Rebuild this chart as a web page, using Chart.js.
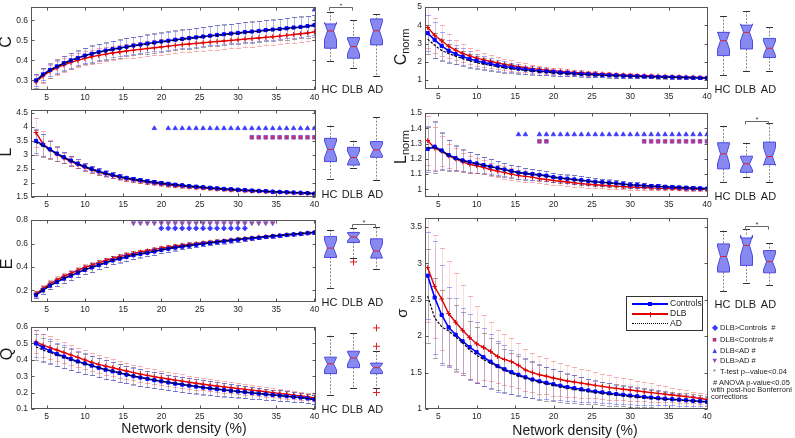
<!DOCTYPE html>
<html>
<head>
<meta charset="utf-8">
<title>Graph measures vs network density</title>
<script src="https://cdn.jsdelivr.net/npm/chart.js@4.4.1/dist/chart.umd.min.js"></script>
<style>
  html, body { margin: 0; padding: 0; background: #fff; }
  body { position: relative; width: 795px; height: 438px; overflow: hidden; font-family: "Liberation Sans", Arial, sans-serif; color: #1a1a1a; }
  canvas { position: absolute; }
  .yt { position: absolute; transform: translate(-50%, -50%) rotate(-90deg); white-space: nowrap; line-height: 1; }
  .yt sub { font-size: 11px; vertical-align: -3px; }
  .xt { position: absolute; transform: translate(-50%, -50%); font-size: 14px; white-space: nowrap; }
  #leg { position: absolute; left: 626px; top: 296px; width: 75px; height: 33px; border: 1px solid #333; background: #fff; }
  #leg .ln { position: absolute; left: 5px; width: 36px; height: 0; }
  #leg .tx { position: absolute; left: 43px; font-size: 8.5px; line-height: 9px; }
  .mk { position: absolute; left: 711px; font-size: 7.5px; line-height: 8px; white-space: nowrap; color: #222; }
  .mk b { font-weight: normal; display: inline-block; width: 7px; text-align: center; }
</style>
</head>
<body>
<canvas id="cC"></canvas><canvas id="cL"></canvas><canvas id="cE"></canvas><canvas id="cQ"></canvas>
<canvas id="cCn"></canvas><canvas id="cLn"></canvas><canvas id="cS"></canvas>
<canvas id="bC"></canvas><canvas id="bL"></canvas><canvas id="bE"></canvas><canvas id="bQ"></canvas>
<canvas id="bCn"></canvas><canvas id="bLn"></canvas><canvas id="bS"></canvas>

<div class="yt" style="left:6px;top:42px;font-size:16px">C</div>
<div class="yt" style="left:6px;top:152px;font-size:16px">L</div>
<div class="yt" style="left:7px;top:264px;font-size:16px">E</div>
<div class="yt" style="left:7px;top:354px;font-size:16px">Q</div>
<div class="yt" style="left:402px;top:47px;font-size:16px">C<sub>norm</sub></div>
<div class="yt" style="left:402px;top:147px;font-size:16px">L<sub>norm</sub></div>
<div class="yt" style="left:401px;top:313px;font-size:15px">σ</div>
<div class="xt" style="left:184px;top:428px">Network density (%)</div>
<div class="xt" style="left:575px;top:430px">Network density (%)</div>

<div id="leg">
  <div class="ln" style="top:6px;border-top:2px solid #0000ff"></div>
  <div style="position:absolute;left:21px;top:5px;width:4px;height:4px;background:#0000ff"></div>
  <div class="tx" style="top:2px">Controls</div>
  <div class="ln" style="top:16px;border-top:2px solid #e00000"></div>
  <div style="position:absolute;left:22.5px;top:14.5px;width:1px;height:5px;background:#e00000"></div>
  <div class="tx" style="top:12px">DLB</div>
  <div class="ln" style="top:25.5px;border-top:1.5px dotted #000"></div>
  <div class="tx" style="top:21.5px">AD</div>
</div>

<div class="mk" style="top:324px"><b style="color:#3a3aff">◆</b> DLB&gt;Controls &nbsp;#</div>
<div class="mk" style="top:336px"><b style="color:#b0357a">■</b> DLB&lt;Controls #</div>
<div class="mk" style="top:347px"><b style="color:#3a3aff">▲</b> DLB&lt;AD #</div>
<div class="mk" style="top:357px"><b style="color:#9a45b0">▼</b> DLB&gt;AD #</div>
<div class="mk" style="top:368px"><b style="color:#666">*</b> T-test p--value&lt;0.04</div>
<div class="mk" style="top:379px">&nbsp;# ANOVA p-value&lt;0.05</div>
<div class="mk" style="top:386px">with post-hoc Bonferroni</div>
<div class="mk" style="top:393px">corrections</div>

<script>
// density steps (%)
const density = [3.6,4.51,5.42,6.33,7.24,8.15,9.06,9.97,10.88,11.79,12.7,13.61,14.52,15.43,16.34,17.25,18.16,19.07,19.98,20.89,21.8,22.71,23.62,24.53,25.44,26.35,27.26,28.17,29.08,29.99,30.9,31.81,32.72,33.63,34.54,35.45,36.36,37.27,38.18,39.09,40];
const xTicks = [5,10,15,20,25,30,35,40];
const groups = ['HC','DLB','AD'];

// clustering C
const C_ctrl = [0.300,0.330,0.352,0.370,0.386,0.400,0.412,0.424,0.433,0.442,0.449,0.456,0.462,0.468,0.474,0.479,0.484,0.489,0.494,0.498,0.503,0.507,0.511,0.515,0.519,0.523,0.527,0.530,0.534,0.537,0.541,0.544,0.547,0.551,0.554,0.557,0.560,0.564,0.567,0.571,0.576];
const C_dlb = [0.292,0.322,0.345,0.362,0.377,0.390,0.400,0.410,0.418,0.425,0.431,0.437,0.442,0.447,0.451,0.455,0.459,0.463,0.467,0.471,0.475,0.479,0.482,0.485,0.488,0.491,0.494,0.497,0.500,0.503,0.506,0.509,0.512,0.515,0.518,0.521,0.525,0.529,0.533,0.537,0.542];
const C_ad = [0.296,0.328,0.351,0.369,0.385,0.399,0.411,0.422,0.432,0.440,0.447,0.454,0.460,0.466,0.472,0.477,0.482,0.487,0.492,0.496,0.501,0.505,0.509,0.513,0.517,0.521,0.525,0.528,0.532,0.535,0.539,0.542,0.545,0.549,0.552,0.555,0.558,0.562,0.565,0.569,0.574];
const C_ctrlErr = [0.03,0.03,0.032,0.034,0.035,0.036,0.037,0.038,0.039,0.04,0.04,0.041,0.042,0.042,0.043,0.043,0.044,0.044,0.045,0.045,0.046,0.046,0.047,0.047,0.047,0.048,0.048,0.048,0.049,0.049,0.049,0.05,0.05,0.05,0.05,0.05,0.05,0.051,0.051,0.051,0.051];
const C_dlbErr = [0.037,0.035,0.034,0.034,0.034,0.035,0.035,0.035,0.036,0.036,0.036,0.036,0.037,0.037,0.037,0.037,0.038,0.038,0.038,0.038,0.038,0.039,0.039,0.039,0.039,0.039,0.04,0.04,0.04,0.04,0.04,0.04,0.04,0.04,0.04,0.04,0.04,0.04,0.04,0.04,0.04];
const C_adErr = [0.035,0.036,0.037,0.038,0.039,0.04,0.041,0.042,0.043,0.044,0.045,0.045,0.046,0.046,0.047,0.047,0.048,0.048,0.049,0.049,0.05,0.05,0.05,0.051,0.051,0.051,0.052,0.052,0.052,0.053,0.053,0.053,0.053,0.054,0.054,0.054,0.054,0.055,0.055,0.055,0.055];
const C_yTicks = [0.3,0.4,0.5,0.6];

// path length L
const L_ctrl = [3.50,3.36,3.20,3.05,2.92,2.80,2.69,2.59,2.50,2.42,2.35,2.29,2.23,2.18,2.14,2.10,2.06,2.03,2.00,1.97,1.94,1.92,1.89,1.87,1.85,1.83,1.81,1.79,1.78,1.76,1.75,1.73,1.72,1.71,1.69,1.68,1.67,1.66,1.65,1.64,1.62];
const L_dlb = [3.80,3.40,3.20,3.03,2.89,2.77,2.66,2.56,2.47,2.39,2.32,2.26,2.20,2.15,2.10,2.06,2.02,1.99,1.96,1.93,1.90,1.88,1.86,1.84,1.82,1.80,1.78,1.77,1.75,1.74,1.72,1.71,1.70,1.69,1.68,1.67,1.66,1.65,1.64,1.63,1.61];
const L_ad = [3.45,3.33,3.18,3.04,2.91,2.79,2.68,2.58,2.49,2.41,2.34,2.28,2.22,2.17,2.13,2.09,2.05,2.02,1.99,1.96,1.93,1.91,1.88,1.86,1.84,1.82,1.80,1.79,1.77,1.76,1.74,1.73,1.72,1.70,1.69,1.68,1.67,1.66,1.65,1.64,1.62];
const L_ctrlErr = [0.42,0.40,0.30,0.25,0.20,0.17,0.15,0.13,0.12,0.11,0.10,0.095,0.09,0.085,0.08,0.075,0.07,0.068,0.065,0.062,0.06,0.057,0.055,0.053,0.05,0.048,0.046,0.045,0.043,0.042,0.04,0.039,0.038,0.037,0.036,0.035,0.034,0.033,0.032,0.031,0.03];
const L_dlbErr = [0.52,0.45,0.32,0.24,0.19,0.16,0.14,0.12,0.11,0.10,0.09,0.085,0.08,0.075,0.07,0.068,0.065,0.062,0.06,0.057,0.055,0.053,0.05,0.048,0.046,0.045,0.043,0.042,0.04,0.039,0.038,0.037,0.036,0.035,0.034,0.033,0.032,0.031,0.03,0.029,0.028];
const L_adErr = [0.45,0.42,0.33,0.27,0.21,0.18,0.16,0.14,0.125,0.115,0.105,0.10,0.095,0.09,0.085,0.08,0.075,0.072,0.07,0.066,0.063,0.06,0.058,0.055,0.053,0.05,0.049,0.047,0.045,0.044,0.042,0.041,0.04,0.039,0.038,0.037,0.036,0.035,0.034,0.033,0.032];
const L_yTicks = [1.5,2,2.5,3,3.5,4,4.5];

// efficiency E
const E_ctrl = [0.16,0.20,0.24,0.27,0.30,0.325,0.35,0.375,0.395,0.415,0.435,0.455,0.47,0.485,0.50,0.51,0.52,0.532,0.545,0.555,0.565,0.573,0.581,0.589,0.597,0.604,0.611,0.618,0.625,0.632,0.638,0.644,0.65,0.656,0.662,0.667,0.673,0.678,0.683,0.688,0.694];
const E_dlb = [0.17,0.215,0.255,0.29,0.32,0.345,0.37,0.395,0.415,0.435,0.455,0.472,0.488,0.502,0.515,0.527,0.538,0.549,0.56,0.568,0.577,0.585,0.592,0.599,0.606,0.612,0.618,0.624,0.63,0.636,0.642,0.647,0.653,0.658,0.664,0.669,0.674,0.679,0.684,0.689,0.695];
const E_ad = [0.163,0.203,0.243,0.273,0.303,0.328,0.353,0.378,0.398,0.418,0.438,0.458,0.473,0.488,0.503,0.513,0.523,0.535,0.548,0.558,0.568,0.576,0.584,0.592,0.6,0.607,0.614,0.621,0.628,0.635,0.641,0.647,0.653,0.659,0.665,0.67,0.676,0.681,0.686,0.691,0.697];
const E_ctrlErr = [0.025,0.03,0.032,0.034,0.035,0.036,0.036,0.036,0.036,0.035,0.035,0.034,0.033,0.032,0.031,0.03,0.029,0.028,0.027,0.026,0.025,0.024,0.023,0.022,0.021,0.02,0.019,0.018,0.017,0.016,0.015,0.014,0.013,0.012,0.012,0.011,0.011,0.01,0.01,0.01,0.01];
const E_dlbErr = [0.025,0.028,0.03,0.03,0.03,0.03,0.029,0.028,0.027,0.026,0.025,0.024,0.023,0.022,0.021,0.02,0.019,0.018,0.017,0.016,0.015,0.014,0.014,0.013,0.013,0.012,0.012,0.011,0.011,0.01,0.01,0.01,0.009,0.009,0.009,0.008,0.008,0.008,0.007,0.007,0.007];
const E_adErr = [0.027,0.032,0.034,0.036,0.037,0.038,0.038,0.038,0.038,0.037,0.037,0.036,0.035,0.034,0.033,0.032,0.031,0.03,0.029,0.028,0.027,0.026,0.025,0.024,0.023,0.022,0.021,0.02,0.019,0.018,0.017,0.016,0.015,0.014,0.014,0.013,0.013,0.012,0.012,0.012,0.012];
const E_yTicks = [0.2,0.4,0.6,0.8];

// modularity Q
const Q_ctrl = [0.50,0.475,0.455,0.435,0.42,0.405,0.39,0.378,0.365,0.352,0.34,0.33,0.32,0.31,0.30,0.292,0.284,0.276,0.269,0.262,0.255,0.249,0.243,0.237,0.231,0.226,0.221,0.216,0.211,0.207,0.203,0.198,0.194,0.19,0.186,0.182,0.178,0.174,0.17,0.165,0.158];
const Q_dlb = [0.51,0.49,0.475,0.46,0.445,0.43,0.415,0.40,0.385,0.372,0.362,0.352,0.342,0.332,0.322,0.313,0.305,0.297,0.29,0.283,0.276,0.27,0.263,0.257,0.251,0.245,0.24,0.235,0.23,0.225,0.22,0.215,0.21,0.205,0.2,0.195,0.19,0.185,0.18,0.175,0.168];
const Q_ad = [0.48,0.46,0.445,0.43,0.415,0.40,0.388,0.376,0.364,0.352,0.341,0.331,0.321,0.311,0.302,0.293,0.285,0.277,0.27,0.263,0.256,0.25,0.244,0.238,0.232,0.227,0.222,0.217,0.212,0.208,0.203,0.199,0.195,0.19,0.186,0.182,0.178,0.174,0.169,0.164,0.157];
const Q_ctrlErr = [0.085,0.08,0.075,0.07,0.068,0.066,0.064,0.062,0.06,0.058,0.057,0.056,0.055,0.054,0.053,0.052,0.051,0.05,0.049,0.048,0.047,0.046,0.045,0.044,0.043,0.042,0.041,0.04,0.039,0.038,0.037,0.036,0.035,0.034,0.033,0.032,0.031,0.03,0.029,0.028,0.027];
const Q_dlbErr = [0.07,0.07,0.068,0.066,0.064,0.062,0.06,0.058,0.056,0.055,0.054,0.052,0.05,0.049,0.048,0.047,0.046,0.045,0.044,0.043,0.042,0.041,0.04,0.039,0.038,0.037,0.036,0.035,0.034,0.033,0.032,0.031,0.03,0.029,0.028,0.027,0.026,0.025,0.024,0.023,0.022];
const Q_adErr = [0.08,0.075,0.07,0.068,0.066,0.064,0.062,0.06,0.058,0.057,0.056,0.055,0.054,0.053,0.052,0.051,0.05,0.049,0.048,0.047,0.046,0.045,0.044,0.043,0.042,0.041,0.04,0.039,0.038,0.037,0.036,0.035,0.034,0.033,0.032,0.031,0.03,0.029,0.028,0.027,0.026];
const Q_yTicks = [0.1,0.2,0.3,0.4,0.5,0.6];

// normalised clustering Cnorm
const Cn_ctrl = [3.57,3.2,2.87,2.6,2.42,2.28,2.15,2.05,1.96,1.88,1.80,1.74,1.68,1.62,1.57,1.53,1.49,1.46,1.43,1.40,1.38,1.35,1.33,1.31,1.29,1.27,1.26,1.24,1.23,1.21,1.20,1.19,1.18,1.17,1.16,1.15,1.14,1.13,1.12,1.11,1.10];
const Cn_dlb = [3.88,3.45,3.15,2.85,2.63,2.46,2.32,2.2,2.1,2.01,1.93,1.85,1.79,1.72,1.67,1.62,1.58,1.54,1.5,1.47,1.44,1.41,1.39,1.37,1.35,1.33,1.31,1.29,1.27,1.26,1.24,1.23,1.22,1.21,1.2,1.18,1.17,1.16,1.15,1.14,1.13];
const Cn_ad = [3.24,2.9,2.62,2.45,2.3,2.17,2.05,1.95,1.87,1.79,1.72,1.66,1.61,1.56,1.52,1.48,1.45,1.42,1.39,1.36,1.34,1.32,1.3,1.28,1.26,1.25,1.23,1.22,1.21,1.2,1.18,1.17,1.16,1.15,1.14,1.14,1.13,1.12,1.11,1.1,1.09];
const Cn_ctrlErr = [1.0,1.0,0.75,0.6,0.52,0.46,0.42,0.38,0.35,0.32,0.3,0.28,0.26,0.24,0.22,0.21,0.2,0.19,0.18,0.17,0.16,0.15,0.14,0.135,0.13,0.125,0.12,0.115,0.11,0.105,0.1,0.095,0.09,0.085,0.08,0.078,0.076,0.074,0.072,0.07,0.068];
const Cn_dlbErr = [1.15,0.95,0.85,0.65,0.55,0.5,0.45,0.42,0.4,0.37,0.34,0.31,0.28,0.26,0.24,0.22,0.2,0.19,0.18,0.17,0.16,0.15,0.14,0.135,0.13,0.125,0.12,0.115,0.11,0.105,0.1,0.095,0.09,0.085,0.08,0.078,0.076,0.074,0.072,0.07,0.068];
const Cn_adErr = [0.8,0.7,0.6,0.5,0.45,0.4,0.37,0.34,0.32,0.3,0.28,0.26,0.24,0.22,0.2,0.19,0.18,0.17,0.16,0.15,0.14,0.13,0.125,0.12,0.115,0.11,0.105,0.1,0.095,0.09,0.085,0.08,0.078,0.076,0.074,0.072,0.07,0.068,0.066,0.064,0.062];
const Cn_yTicks = [1,2,3,4,5];

// normalised path length Lnorm
const Ln_ctrl = [1.265,1.28,1.255,1.225,1.205,1.19,1.18,1.17,1.16,1.15,1.14,1.13,1.12,1.11,1.105,1.1,1.095,1.09,1.08,1.075,1.07,1.065,1.06,1.055,1.05,1.047,1.043,1.04,1.035,1.03,1.028,1.025,1.022,1.02,1.017,1.015,1.013,1.011,1.009,1.007,1.005];
const Ln_dlb = [1.32,1.27,1.25,1.22,1.2,1.18,1.165,1.155,1.145,1.13,1.12,1.11,1.1,1.09,1.085,1.08,1.07,1.065,1.058,1.053,1.048,1.043,1.038,1.034,1.03,1.027,1.024,1.021,1.018,1.016,1.014,1.012,1.01,1.008,1.006,1.005,1.004,1.003,1.002,1.001,1.0];
const Ln_ad = [1.27,1.275,1.25,1.222,1.203,1.188,1.177,1.167,1.157,1.147,1.137,1.127,1.118,1.109,1.103,1.098,1.093,1.087,1.078,1.073,1.068,1.063,1.058,1.053,1.048,1.045,1.041,1.038,1.033,1.029,1.027,1.024,1.021,1.019,1.016,1.014,1.012,1.01,1.008,1.006,1.004];
const Ln_ctrlErr = [0.15,0.16,0.12,0.1,0.08,0.07,0.065,0.06,0.055,0.05,0.047,0.045,0.042,0.04,0.038,0.036,0.034,0.032,0.03,0.029,0.028,0.027,0.026,0.025,0.024,0.023,0.022,0.021,0.02,0.019,0.018,0.017,0.016,0.015,0.014,0.013,0.012,0.012,0.011,0.011,0.01];
const Ln_dlbErr = [0.16,0.14,0.1,0.08,0.07,0.06,0.055,0.05,0.047,0.044,0.042,0.04,0.038,0.036,0.034,0.032,0.03,0.029,0.028,0.027,0.026,0.025,0.024,0.023,0.022,0.021,0.02,0.019,0.018,0.017,0.016,0.015,0.014,0.013,0.012,0.012,0.011,0.011,0.01,0.01,0.01];
const Ln_adErr = [0.14,0.17,0.12,0.1,0.085,0.075,0.068,0.062,0.057,0.052,0.049,0.046,0.043,0.041,0.039,0.037,0.035,0.033,0.031,0.03,0.029,0.028,0.027,0.026,0.025,0.024,0.023,0.022,0.021,0.02,0.019,0.018,0.017,0.016,0.015,0.014,0.013,0.013,0.012,0.012,0.011];
const Ln_yTicks = [1,1.1,1.2,1.3,1.4,1.5];

// small-worldness sigma
const S_ctrl = [2.83,2.53,2.29,2.12,2.02,1.93,1.85,1.78,1.71,1.65,1.59,1.545,1.505,1.47,1.435,1.405,1.38,1.36,1.34,1.32,1.30,1.285,1.27,1.255,1.24,1.228,1.216,1.205,1.195,1.185,1.175,1.166,1.157,1.149,1.141,1.134,1.127,1.12,1.113,1.106,1.098];
const S_dlb = [2.94,2.68,2.51,2.31,2.19,2.08,1.98,1.895,1.845,1.79,1.72,1.68,1.65,1.6,1.535,1.5,1.47,1.45,1.425,1.405,1.385,1.37,1.355,1.34,1.325,1.31,1.295,1.283,1.271,1.26,1.248,1.236,1.225,1.214,1.203,1.192,1.182,1.17,1.16,1.145,1.13];
const S_ad = [2.55,2.25,2.13,2.07,1.99,1.91,1.81,1.74,1.68,1.63,1.58,1.53,1.49,1.455,1.425,1.395,1.37,1.345,1.325,1.305,1.285,1.27,1.255,1.24,1.227,1.215,1.203,1.192,1.182,1.172,1.163,1.155,1.147,1.14,1.133,1.127,1.121,1.115,1.109,1.104,1.098];
const S_ctrlErr = [0.6,0.78,0.68,0.55,0.5,0.46,0.45,0.42,0.4,0.38,0.35,0.33,0.3,0.28,0.27,0.25,0.24,0.22,0.21,0.2,0.19,0.18,0.17,0.16,0.15,0.145,0.14,0.13,0.125,0.12,0.115,0.11,0.1,0.095,0.09,0.085,0.08,0.075,0.07,0.065,0.06];
const S_dlbErr = [0.75,0.71,0.7,0.72,0.68,0.62,0.57,0.52,0.45,0.4,0.37,0.35,0.33,0.31,0.29,0.27,0.26,0.25,0.24,0.23,0.22,0.21,0.2,0.19,0.18,0.17,0.165,0.16,0.15,0.145,0.14,0.13,0.125,0.12,0.11,0.1,0.095,0.09,0.08,0.075,0.07];
const S_adErr = [0.64,0.55,0.5,0.46,0.44,0.42,0.4,0.38,0.36,0.34,0.32,0.3,0.28,0.27,0.26,0.25,0.24,0.23,0.22,0.21,0.2,0.19,0.18,0.17,0.165,0.16,0.155,0.15,0.145,0.14,0.135,0.13,0.125,0.12,0.115,0.11,0.105,0.1,0.095,0.09,0.085];
const S_yTicks = [1,1.5,2,2.5,3,3.5];

// significance marker rows (density values where the test is significant)
const C_ltAD = [40];
const L_ltAD = [19.07].concat(density.slice(19));
const L_ltCtrl = density.slice(31);
const E_gtAD = density.slice(14, 35);
const E_gtCtrl = density.slice(18, 31);
const Ln_ltAD = [15.43, 16.34].concat(density.slice(16));
const Ln_ltCtrl = [18.16, 19.07].concat(density.slice(31));

// box plots: [whisker low, q1, median, q3, whisker high] for HC, DLB, AD
const C_box = [[0.392,0.453,0.536,0.57,0.629],[0.357,0.405,0.461,0.504,0.589],[0.32,0.469,0.537,0.594,0.618]];
const C_notch = [[0.495,0.577],[0.425,0.497],[0.492,0.582]];
const L_box = [[2.11,2.72,3.14,3.52,3.96],[2.51,2.60,2.86,3.21,3.44],[2.1,2.87,3.12,3.41,4.25]];
const L_notch = [[2.85,3.43],[2.64,3.08],[2.92,3.32]];
const E_box = [[0.219,0.467,0.544,0.64,0.695],[0.462,0.59,0.635,0.673,0.709],[0.37,0.462,0.52,0.62,0.714]];
const E_notch = [[0.48,0.608],[0.603,0.667],[0.462,0.578]];
const E_out = [[],[0.43],[]];
const Q_box = [[0.181,0.308,0.366,0.405,0.532],[0.226,0.343,0.40,0.44,0.545],[0.226,0.308,0.343,0.37,0.44]];
const Q_notch = [[0.33,0.402],[0.364,0.436],[0.32,0.366]];
const Q_out = [[],[],[0.577,0.469,0.197]];
const Cn_box = [[1.26,2.27,3.06,3.5,4.37],[1.47,2.62,3.5,3.88,4.63],[1.47,2.17,2.66,3.18,3.76]];
const Cn_notch = [[2.6,3.52],[3.05,3.95],[2.28,3.04]];
const Ln_box = [[1.042,1.128,1.223,1.293,1.40],[1.078,1.106,1.16,1.208,1.293],[1.047,1.155,1.206,1.297,1.415]];
const Ln_notch = [[1.16,1.286],[1.12,1.2],[1.15,1.262]];
const S_box = [[2.59,2.85,3.06,3.23,3.41],[2.70,2.94,3.21,3.31,3.43],[2.68,2.84,2.99,3.14,3.24]];
const S_notch = [[2.92,3.2],[3.07,3.35],[2.88,3.1]];
// t-test brackets: [group a, group b, height]
const C_sig = [0, 1, 0.65];
const E_sig = [1, 2, 0.742];
const Ln_sig = [1, 2, 1.43];
const S_sig = [1, 2, 3.47];

Chart.defaults.font.family = '"Liberation Sans", Arial, sans-serif';
Chart.defaults.color = '#262626';

const PT = 5, PR = 10, XH = 16, BXH = 18;
const fmt = v => String(Math.round(v * 100) / 100);

function place(cv, left, top, w, h) {
  cv.width = w; cv.height = h;
  cv.style.left = left + 'px'; cv.style.top = top + 'px';
  cv.style.width = w + 'px'; cv.style.height = h + 'px';
}
function pts(arr) { return density.map((x, i) => ({ x: x, y: arr[i] })); }

// error bars under the lines
const errPlugin = {
  id: 'errbars',
  beforeDatasetsDraw(chart) {
    const { ctx, chartArea: a, scales: { x, y } } = chart;
    ctx.save();
    ctx.beginPath(); ctx.rect(a.left, a.top, a.right - a.left, a.bottom - a.top); ctx.clip();
    chart.data.datasets.forEach(ds => {
      if (!ds.err) return;
      ctx.lineWidth = 1;
      ds.data.forEach((p, i) => {
        const px = Math.round(x.getPixelForValue(p.x)) + 0.5;
        const t = Math.round(y.getPixelForValue(p.y + ds.err[i])) + 0.5, b = Math.round(y.getPixelForValue(p.y - ds.err[i])) + 0.5;
        ctx.strokeStyle = ds.errColor;
        ctx.beginPath(); ctx.moveTo(px, t); ctx.lineTo(px, b); ctx.stroke();
        ctx.strokeStyle = ds.capColor;
        ctx.beginPath();
        ctx.moveTo(px - 2.5, t); ctx.lineTo(px + 2.5, t);
        ctx.moveTo(px - 2.5, b); ctx.lineTo(px + 2.5, b);
        ctx.stroke();
      });
    });
    ctx.restore();
  }
};

// matlab style box with inward ticks
const framePlugin = {
  id: 'frame',
  afterDraw(chart) {
    const { ctx, chartArea: a, scales: { x, y } } = chart;
    const L = Math.round(a.left) + 0.5, R = Math.round(a.right) - 0.5, T = Math.round(a.top) + 0.5, B = Math.round(a.bottom) - 0.5;
    ctx.save();
    ctx.strokeStyle = '#555'; ctx.lineWidth = 1;
    ctx.strokeRect(L, T, R - L, B - T);
    ctx.beginPath();
    x.ticks.forEach(t => {
      const p = Math.round(x.getPixelForValue(t.value)) + 0.5;
      ctx.moveTo(p, B); ctx.lineTo(p, B - 3); ctx.moveTo(p, T); ctx.lineTo(p, T + 3);
    });
    y.ticks.forEach(t => {
      const p = Math.round(y.getPixelForValue(t.value)) + 0.5;
      ctx.moveTo(L, p); ctx.lineTo(L + 3, p); ctx.moveTo(R, p); ctx.lineTo(R - 3, p);
    });
    ctx.stroke();
    ctx.restore();
  }
};

const seriesStyle = [
  { c: '#000000', w: 1.2, dash: [2.5, 1.5], r: 0, pt: 'circle', err: 'rgba(60,60,60,0.22)', cap: 'rgba(60,60,60,0.45)' },
  { c: '#0000ff', w: 1.6, dash: [], r: 2.2, pt: 'rect', err: 'rgba(60,60,255,0.2)', cap: 'rgba(60,60,255,0.45)' },
  { c: '#e00000', w: 1.4, dash: [], r: 2.4, pt: 'cross', err: 'rgba(240,80,80,0.2)', cap: 'rgba(240,80,80,0.45)' }
];
const markStyle = {
  ltAD: { pt: 'triangle', bg: '#3a3aff', bd: '#3a3aff', rot: 0 },
  ltCtrl: { pt: 'rect', bg: '#c8306a', bd: '#7a4ad0', rot: 0 },
  gtAD: { pt: 'triangle', bg: '#b84890', bd: '#7050d0', rot: 180 },
  gtCtrl: { pt: 'rectRot', bg: '#3a3aff', bd: '#3a3aff', rot: 0 }
};

function makeLine(id, area, xr, yr, yTicks, series, errs, marks) {
  const cv = document.getElementById(id);
  place(cv, area.l - area.yw, area.t - PT, area.r - area.l + area.yw + PR, area.b - area.t + PT + XH);
  const datasets = series.map((arr, k) => {
    const s = seriesStyle[k];
    return {
      data: pts(arr), err: errs[k], errColor: s.err, capColor: s.cap, showLine: true,
      borderColor: s.c, borderWidth: s.w, borderDash: s.dash,
      pointStyle: s.pt, pointRadius: s.r, pointBackgroundColor: s.c, pointBorderColor: s.c, pointBorderWidth: 1
    };
  });
  (marks || []).forEach(m => {
    const s = markStyle[m.kind];
    datasets.push({
      data: m.xs.map(x => ({ x: x, y: m.y })), showLine: false,
      pointStyle: s.pt, pointRotation: s.rot, pointRadius: 2.6,
      pointBackgroundColor: s.bg, pointBorderColor: s.bd, pointBorderWidth: 0.8
    });
  });
  new Chart(cv, {
    type: 'scatter',
    data: { datasets: datasets },
    options: {
      responsive: false, animation: false, events: [], devicePixelRatio: 1,
      layout: { padding: { top: PT, right: PR, left: 0, bottom: 0 } },
      plugins: { legend: { display: false }, tooltip: { enabled: false } },
      scales: {
        x: {
          type: 'linear', min: xr[0], max: xr[1],
          afterBuildTicks: s => { s.ticks = xTicks.map(v => ({ value: v })); },
          afterFit: s => { s.height = XH; },
          grid: { display: false, drawTicks: false }, border: { display: false },
          ticks: { font: { size: 8.5 }, padding: 3, maxRotation: 0, autoSkip: false, callback: fmt }
        },
        y: {
          type: 'linear', min: yr[0], max: yr[1],
          afterBuildTicks: s => { s.ticks = yTicks.map(v => ({ value: v })); },
          afterFit: s => { s.width = area.yw; },
          grid: { display: false, drawTicks: false }, border: { display: false },
          ticks: { font: { size: 8.5 }, padding: 3, autoSkip: false, callback: fmt }
        }
      }
    },
    plugins: [errPlugin, framePlugin]
  });
}

// notched boxes, whiskers, outliers and t-test bracket
const boxPlugin = {
  id: 'boxes',
  afterDatasetsDraw(chart) {
    const { ctx, scales: { x, y } } = chart;
    const st = chart.data.datasets[0].stats;
    const hw = 6, nw = 3, cw = 3.5;
    ctx.save();
    st.box.forEach((b, i) => {
      const cx = Math.round(x.getPixelForValue(i)) + 0.5;
      const lo = y.getPixelForValue(b[0]), q1 = y.getPixelForValue(b[1]), md = y.getPixelForValue(b[2]);
      const q3 = y.getPixelForValue(b[3]), hi = y.getPixelForValue(b[4]);
      const nLo = y.getPixelForValue(st.notch[i][0]), nHi = y.getPixelForValue(st.notch[i][1]);
      // whiskers
      ctx.strokeStyle = '#8a8a8a'; ctx.lineWidth = 1; ctx.setLineDash([2, 1.5]);
      ctx.beginPath();
      ctx.moveTo(cx, hi); ctx.lineTo(cx, Math.min(q3, nHi));
      ctx.moveTo(cx, Math.max(q1, nLo)); ctx.lineTo(cx, lo);
      ctx.stroke();
      ctx.setLineDash([]);
      ctx.strokeStyle = '#333';
      ctx.beginPath();
      ctx.moveTo(cx - cw, Math.round(hi) + 0.5); ctx.lineTo(cx + cw, Math.round(hi) + 0.5);
      ctx.moveTo(cx - cw, Math.round(lo) + 0.5); ctx.lineTo(cx + cw, Math.round(lo) + 0.5);
      ctx.stroke();
      // notched box
      ctx.beginPath();
      ctx.moveTo(cx - hw, q3); ctx.lineTo(cx + hw, q3); ctx.lineTo(cx + hw, nHi);
      ctx.lineTo(cx + nw, md); ctx.lineTo(cx + hw, nLo); ctx.lineTo(cx + hw, q1);
      ctx.lineTo(cx - hw, q1); ctx.lineTo(cx - hw, nLo); ctx.lineTo(cx - nw, md);
      ctx.lineTo(cx - hw, nHi); ctx.closePath();
      ctx.fillStyle = 'rgba(110,110,238,0.82)'; ctx.fill();
      ctx.strokeStyle = '#4a4ae0'; ctx.stroke();
      // median
      ctx.strokeStyle = '#e02020';
      ctx.beginPath(); ctx.moveTo(cx - nw, md); ctx.lineTo(cx + nw, md); ctx.stroke();
      // outliers
      (st.out ? st.out[i] : []).forEach(v => {
        const py = y.getPixelForValue(v);
        ctx.beginPath();
        ctx.moveTo(cx - 3.5, py); ctx.lineTo(cx + 3.5, py);
        ctx.moveTo(cx, py - 3.5); ctx.lineTo(cx, py + 3.5);
        ctx.stroke();
      });
    });
    if (st.sig) {
      const xa = x.getPixelForValue(st.sig[0]), xb = x.getPixelForValue(st.sig[1]);
      const py = Math.round(y.getPixelForValue(st.sig[2])) + 0.5;
      ctx.strokeStyle = '#666'; ctx.lineWidth = 1;
      ctx.beginPath();
      ctx.moveTo(xa, py + 3); ctx.lineTo(xa, py); ctx.lineTo(xb, py); ctx.lineTo(xb, py + 3);
      ctx.stroke();
      ctx.fillStyle = '#444'; ctx.font = '8px "Liberation Sans", Arial, sans-serif';
      ctx.textAlign = 'center'; ctx.textBaseline = 'bottom';
      ctx.fillText('*', (xa + xb) / 2, py + 2);
    }
    ctx.restore();
  }
};

function makeBox(id, area, yr, box, notch, out, sig) {
  const cv = document.getElementById(id);
  place(cv, area.l, area.t, area.r - area.l, area.b - area.t + BXH);
  new Chart(cv, {
    type: 'bar',
    data: {
      labels: groups,
      datasets: [{ data: box.map(b => [b[1], b[3]]), backgroundColor: 'rgba(0,0,0,0)', borderWidth: 0,
                   stats: { box: box, notch: notch, out: out, sig: sig } }]
    },
    options: {
      responsive: false, animation: false, events: [], devicePixelRatio: 1,
      layout: { padding: 0 },
      plugins: { legend: { display: false }, tooltip: { enabled: false } },
      scales: {
        x: { grid: { display: false, drawTicks: false }, border: { display: false }, afterFit: s => { s.height = BXH; },
             ticks: { font: { size: 11 }, padding: 2, color: '#1a1a1a', maxRotation: 0, minRotation: 0, autoSkip: false } },
        y: { display: false, min: yr[0], max: yr[1] }
      }
    },
    plugins: [boxPlugin]
  });
}

const XL = [2.95, 40.2], XR = [3.25, 40.13];
makeLine('cC', { l: 31, r: 316, t: 4, b: 90, yw: 31 }, XL, [0.252, 0.666], C_yTicks,
  [C_ad, C_ctrl, C_dlb], [C_adErr, C_ctrlErr, C_dlbErr],
  [{ xs: C_ltAD, y: 0.653, kind: 'ltAD' }]);
makeLine('cL', { l: 31, r: 316, t: 107, b: 197, yw: 31 }, XL, [1.5, 4.6], L_yTicks,
  [L_ad, L_ctrl, L_dlb], [L_adErr, L_ctrlErr, L_dlbErr],
  [{ xs: L_ltAD, y: 3.95, kind: 'ltAD' }, { xs: L_ltCtrl, y: 3.63, kind: 'ltCtrl' }]);
makeLine('cE', { l: 31, r: 316, t: 217, b: 302, yw: 31 }, XL, [0.1, 0.8], E_yTicks,
  [E_ad, E_ctrl, E_dlb], [E_adErr, E_ctrlErr, E_dlbErr],
  [{ xs: E_gtAD, y: 0.775, kind: 'gtAD' }, { xs: E_gtCtrl, y: 0.73, kind: 'gtCtrl' }]);
makeLine('cQ', { l: 31, r: 316, t: 324, b: 409, yw: 31 }, XL, [0.1, 0.6], Q_yTicks,
  [Q_ad, Q_ctrl, Q_dlb], [Q_adErr, Q_ctrlErr, Q_dlbErr], []);
makeLine('cCn', { l: 425, r: 708, t: 4, b: 89, yw: 30 }, XR, [0.5, 5], Cn_yTicks,
  [Cn_ad, Cn_ctrl, Cn_dlb], [Cn_adErr, Cn_ctrlErr, Cn_dlbErr], []);
makeLine('cLn', { l: 425, r: 708, t: 110, b: 197, yw: 30 }, XR, [0.95, 1.5], Ln_yTicks,
  [Ln_ad, Ln_ctrl, Ln_dlb], [Ln_adErr, Ln_ctrlErr, Ln_dlbErr],
  [{ xs: Ln_ltAD, y: 1.36, kind: 'ltAD' }, { xs: Ln_ltCtrl, y: 1.315, kind: 'ltCtrl' }]);
makeLine('cS', { l: 425, r: 708, t: 215, b: 409, yw: 30 }, XR, [1, 3.62], S_yTicks,
  [S_ad, S_ctrl, S_dlb], [S_adErr, S_ctrlErr, S_dlbErr], []);

makeBox('bC', { l: 318, r: 387, t: 4, b: 81 }, [0.295, 0.666], C_box, C_notch, null, C_sig);
makeBox('bL', { l: 318, r: 387, t: 107, b: 186 }, [1.879, 4.6], L_box, L_notch, null, null);
makeBox('bE', { l: 318, r: 387, t: 217, b: 294 }, [0.166, 0.8], E_box, E_notch, E_out, E_sig);
makeBox('bQ', { l: 318, r: 387, t: 324, b: 401 }, [0.147, 0.6], Q_box, Q_notch, Q_out, null);
makeBox('bCn', { l: 711, r: 780, t: 4, b: 81 }, [0.926, 5], Cn_box, Cn_notch, null, null);
makeBox('bLn', { l: 711, r: 780, t: 110, b: 188 }, [1.007, 1.5], Ln_box, Ln_notch, null, Ln_sig);
makeBox('bS', { l: 711, r: 780, t: 215, b: 296 }, [2.527, 3.62], S_box, S_notch, null, S_sig);
</script>
</body>
</html>
